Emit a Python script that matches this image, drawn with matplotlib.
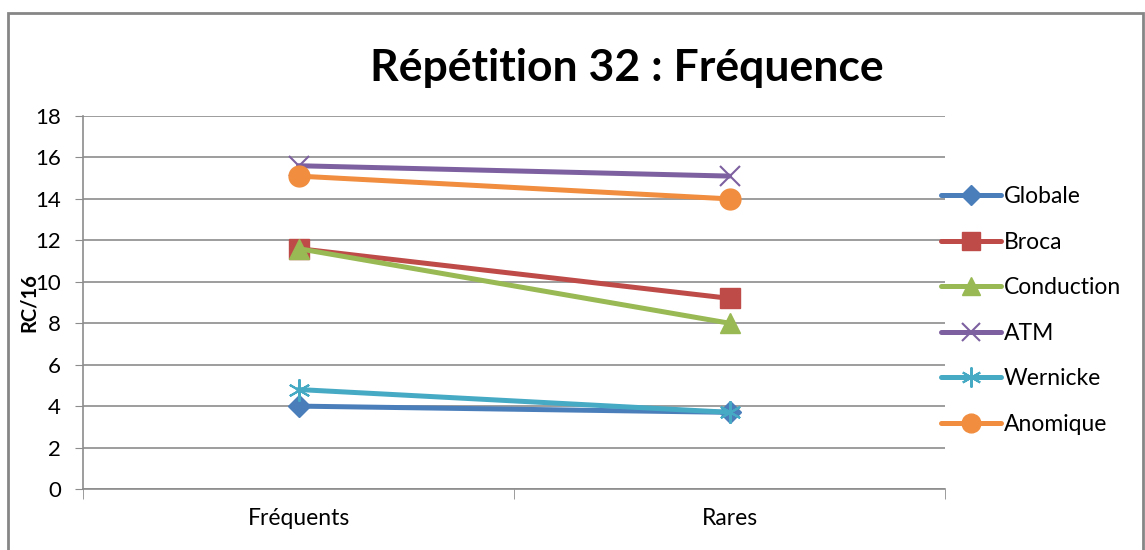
import matplotlib.pyplot as plt
from matplotlib.patches import Rectangle
from matplotlib.ticker import FixedLocator, NullFormatter

plt.rcParams['font.family'] = ['Lato', 'DejaVu Sans']

categories = ['Fréquents', 'Rares']
series = ['Globale', 'Broca', 'Conduction', 'ATM', 'Wernicke', 'Anomique']
globale = [4.0, 3.7]
broca = [11.6, 9.2]
conduction = [11.6, 8.0]
atm = [15.6, 15.1]
wernicke = [4.8, 3.7]
anomique = [15.1, 14.0]
yticks = list(range(0, 19, 2))

values = [globale, broca, conduction, atm, wernicke, anomique]
colors = ['#4A7EBB', '#BE4B48', '#98B954', '#7D60A0', '#46AAC5', '#F08D3E']
markers = ['D', 's', '^', 'x', (6, 2, 0), 'o']
msizes = [11, 14, 15, 14, 16, 15]

fig = plt.figure(figsize=(11.45, 5.5), dpi=100)
ax = fig.add_axes([83 / 1145, 61 / 550, 862 / 1145, 373 / 550])

x = range(len(categories))
for name, vals, c, m, ms in zip(series, values, colors, markers, msizes):
    ax.plot(x, vals, color=c, lw=3.6, marker=m, markersize=ms,
            markeredgewidth=1.5 if m in ('x', (6, 2, 0)) else 1,
            markeredgecolor=c, label=name, solid_capstyle='round')

ax.set_xlim(-0.5, 1.5)
ax.set_ylim(0, 18)
ax.set_yticks(yticks)
ax.yaxis.grid(True, color='#8C8C8C', lw=1.2)
ax.set_axisbelow(True)
ax.tick_params(axis='y', direction='out', length=6, color='#8C8C8C',
               labelsize=16, pad=10)
ax.set_xticks(list(x))
ax.set_xticklabels(categories)
ax.xaxis.set_minor_locator(FixedLocator([-0.5, 0.5, 1.5]))
ax.xaxis.set_minor_formatter(NullFormatter())
ax.tick_params(axis='x', which='major', length=0, labelsize=16.5, pad=14)
ax.tick_params(axis='x', which='minor', direction='out', length=7,
               color='#8C8C8C')
for side in ('top', 'right'):
    ax.spines[side].set_visible(False)
for side in ('left', 'bottom'):
    ax.spines[side].set_color('#8C8C8C')
    ax.spines[side].set_linewidth(1.2)

# axis title sits on top of the tick labels, as in the source workbook
ax.yaxis.set_label_coords(-44 / 862, 0.5)
ax.set_ylabel('RC/16', fontsize=14.5, fontweight='bold')

fig.text(627 / 1145, 1 - 68 / 550, 'Répétition 32 : Fréquence',
         ha='center', va='center', fontsize=32, fontweight='bold')

ax.legend(loc='upper left', bbox_to_anchor=(941 / 1145, 1 - 186 / 550),
          bbox_transform=fig.transFigure, frameon=False, fontsize=16.5,
          handlelength=2.6, handletextpad=0.15, labelspacing=1.07,
          borderaxespad=0, borderpad=0, markerscale=0.9)

fig.patches.append(Rectangle((8 / 1145, -0.05), 1135 / 1145, 1.05 - 13 / 550,
                             transform=fig.transFigure, fill=False,
                             edgecolor='#868686', lw=2))

fig.savefig('out.png', dpi=100)
